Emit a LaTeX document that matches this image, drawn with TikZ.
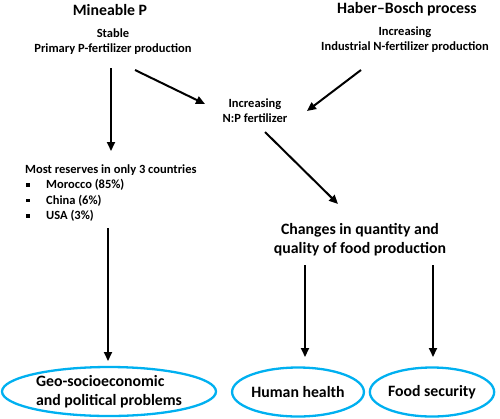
\documentclass[tikz,border=0pt]{standalone}
\usepackage{fontspec}
\setmainfont{Carlito}
\usetikzlibrary{arrows.meta,shapes.geometric}
\definecolor{ecyan}{RGB}{0,176,240}
\begin{document}
\begin{tikzpicture}[x=1pt,y=-1pt,
 txt/.style={font=\bfseries\fontsize{12.5}{15}\selectfont, align=center, inner sep=0pt},
 big/.style={font=\bfseries\fontsize{15.8}{19}\selectfont, align=center, inner sep=0pt},
 head/.style={font=\bfseries\fontsize{15.8}{15}\selectfont, inner sep=0pt},
 arr/.style={line width=2pt, -{Triangle[length=9pt,width=8pt]}},
 bul/.style={fill=black, minimum size=3.4pt, inner sep=0pt},
 oval/.style={ellipse, draw=ecyan, line width=2.3pt, inner sep=0pt, minimum width=#1, minimum height=49pt, font=\bfseries\fontsize{15.8}{19}\selectfont, align=left}]
\useasboundingbox (0,0) rectangle (500,418);
\node[head] (minP) at (110,10) {Mineable P};
\node[txt] (stable) at (113,41.5) {Stable\\Primary P-fertilizer production};
\node[head] (hb) at (407,9) {Haber–Bosch process};
\node[txt] (incN) at (405,40) {Increasing\\Industrial N-fertilizer production};
\node[txt] (np) at (255,110.5) {Increasing\\N:P fertilizer};
\node[txt, anchor=west] (res) at (25,170) {Most reserves in only 3 countries};
\node[bul] (b1) at (28,185) {};
\node[bul] (b2) at (28,200.5) {};
\node[bul] (b3) at (28,216) {};
\node[txt, anchor=west] (mor) at (46,185) {Morocco (85\%)};
\node[txt, anchor=west] (chi) at (46,200.5) {China (6\%)};
\node[txt, anchor=west] (usa) at (46,216) {USA (3\%)};
\node[big] (chg) at (360,239.5) {Changes in quantity and\\quality of food production};
\node[oval=214pt] (geo) at (109,391.5) {Geo-socioeconomic\\and political problems};
\node[oval=118pt] (hh) at (298,392) {Human health};
\node[oval=122pt] (fs) at (432,392) {Food security};
\coordinate (a1s) at (111,68);
\coordinate (a1e) at (111,151);
\coordinate (a2s) at (135,70);
\coordinate (a2e) at (205,104);
\coordinate (a3s) at (361,70);
\coordinate (a3e) at (307,111);
\coordinate (a4s) at (265,132);
\coordinate (a4e) at (338,204);
\coordinate (a5s) at (108,228);
\coordinate (a5e) at (108,361);
\coordinate (a6s) at (305,265);
\coordinate (a6e) at (305,357);
\coordinate (a7s) at (433,265);
\coordinate (a7e) at (433,357);
\draw[arr] (a1s) -- (a1e);
\draw[arr] (a2s) -- (a2e);
\draw[arr] (a3s) -- (a3e);
\draw[arr] (a4s) -- (a4e);
\draw[arr] (a5s) -- (a5e);
\draw[arr] (a6s) -- (a6e);
\draw[arr] (a7s) -- (a7e);
\end{tikzpicture}
\end{document}
